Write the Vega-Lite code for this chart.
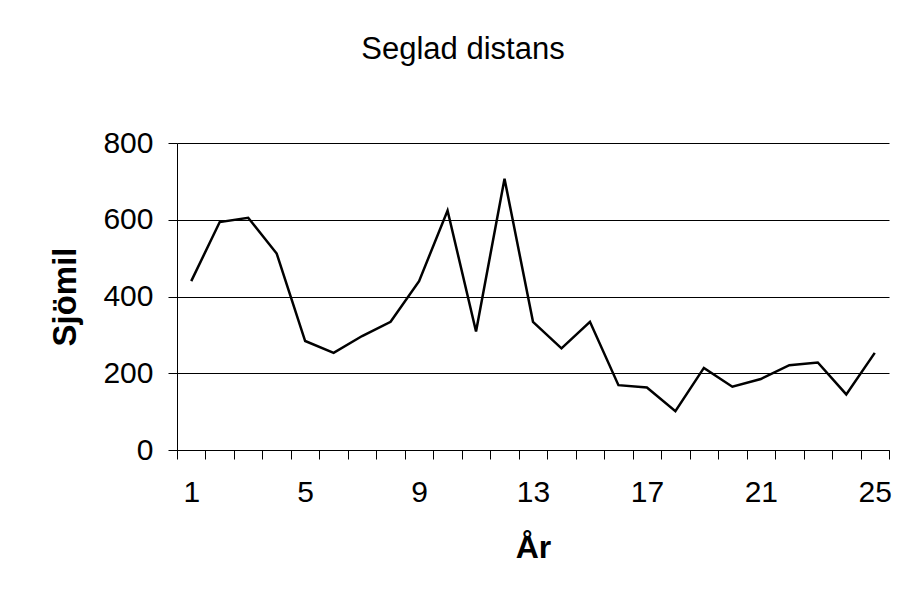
{
  "$schema": "https://vega.github.io/schema/vega-lite/v6.json",
  "autosize": {"type": "none"},
  "padding": {"left": 177, "top": 143, "right": 8, "bottom": 154},
  "width": 712,
  "height": 307,
  "background": "white",
  "title": {
    "text": "Seglad distans",
    "font": "Liberation Sans",
    "fontSize": 31,
    "fontWeight": "normal",
    "color": "#000",
    "anchor": "middle",
    "dx": -70,
    "offset": 62
  },
  "config": {
    "view": {"stroke": null},
    "font": "Liberation Sans"
  },
  "data": {
    "values": [
      {"year": 1, "miles": 440},
      {"year": 2, "miles": 594},
      {"year": 3, "miles": 605},
      {"year": 4, "miles": 512},
      {"year": 5, "miles": 284},
      {"year": 6, "miles": 253},
      {"year": 7, "miles": 297},
      {"year": 8, "miles": 334},
      {"year": 9, "miles": 440},
      {"year": 10, "miles": 624},
      {"year": 11, "miles": 309},
      {"year": 12, "miles": 707},
      {"year": 13, "miles": 334},
      {"year": 14, "miles": 265},
      {"year": 15, "miles": 334},
      {"year": 16, "miles": 169},
      {"year": 17, "miles": 163},
      {"year": 18, "miles": 101},
      {"year": 19, "miles": 214},
      {"year": 20, "miles": 165},
      {"year": 21, "miles": 185},
      {"year": 22, "miles": 221},
      {"year": 23, "miles": 228},
      {"year": 24, "miles": 145},
      {"year": 25, "miles": 253}
    ]
  },
  "mark": {"type": "line", "color": "#000", "strokeWidth": 2.5},
  "encoding": {
    "x": {
      "field": "year",
      "type": "ordinal",
      "bandPosition": 0.5,
      "scale": {"type": "band", "paddingInner": 0, "paddingOuter": 0},
      "axis": {
        "title": "År",
        "titleFont": "Liberation Sans",
        "titleFontSize": 32,
        "titleFontWeight": "bold",
        "titleColor": "#000",
        "titlePadding": 25,
        "labelAngle": 0,
        "labelFont": "Liberation Sans",
        "labelFontSize": 30,
        "labelColor": "#000",
        "labelPadding": 18,
        "labelExpr": "(datum.value - 1) % 4 == 0 ? datum.label : ''",
        "tickBand": "extent",
        "tickSize": 9,
        "tickColor": "#000",
        "domainColor": "#000",
        "grid": false
      }
    },
    "y": {
      "field": "miles",
      "type": "quantitative",
      "scale": {"domain": [0, 800], "nice": false},
      "axis": {
        "title": "Sjömil",
        "titleFont": "Liberation Sans",
        "titleFontSize": 33,
        "titleFontWeight": "bold",
        "titleColor": "#000",
        "titlePadding": 20,
        "values": [0, 200, 400, 600, 800],
        "labelFont": "Liberation Sans",
        "labelFontSize": 30,
        "labelColor": "#000",
        "labelPadding": 15,
        "tickSize": 9,
        "tickColor": "#000",
        "domainColor": "#000",
        "grid": true,
        "gridColor": "#000",
        "gridOpacity": 1,
        "gridWidth": 1
      }
    }
  }
}
